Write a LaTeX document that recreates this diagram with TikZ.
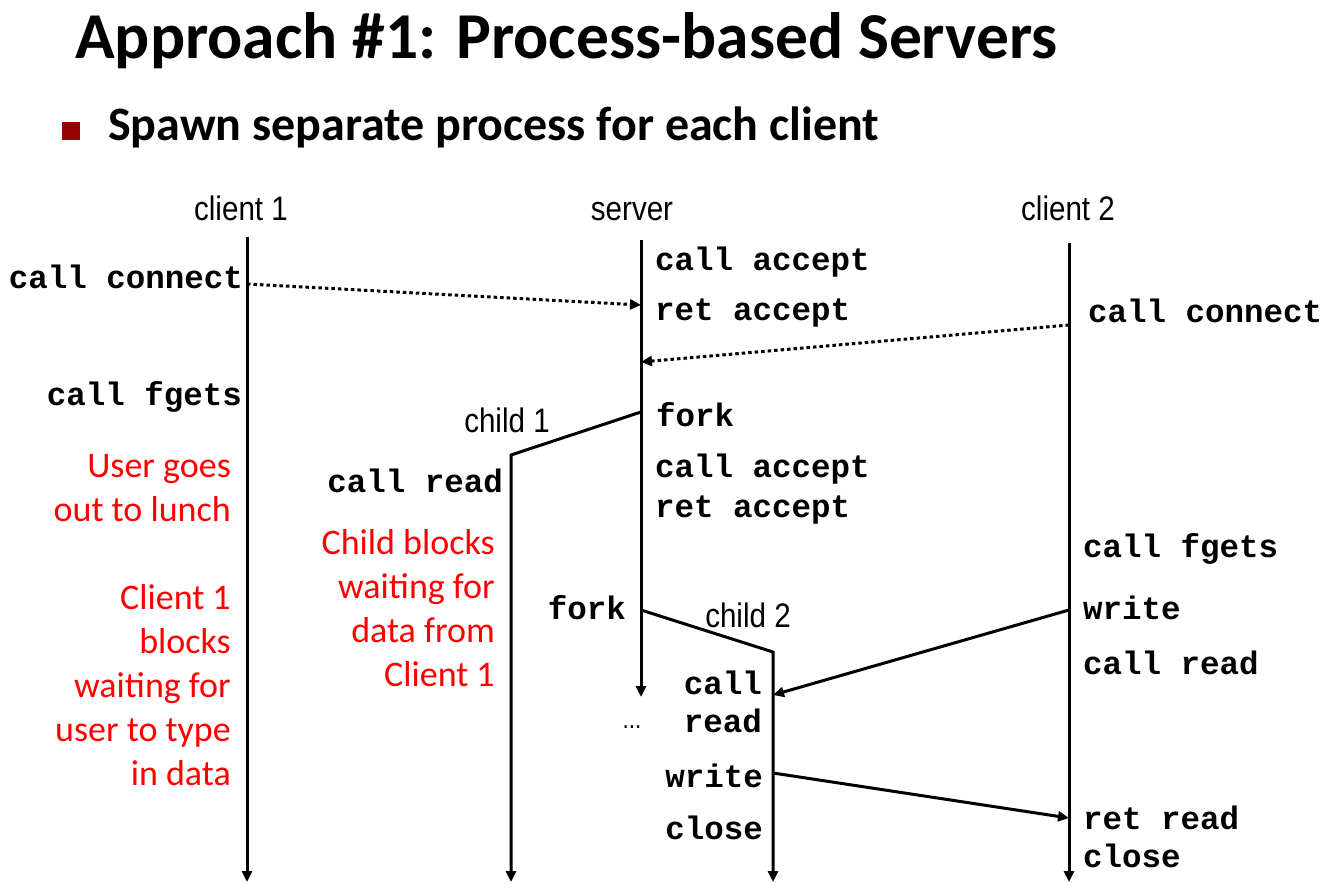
\documentclass[tikz,border=0pt]{standalone}
\usepackage{fontspec}
\setmainfont{Carlito}
\newfontfamily\codefont{Liberation Mono}
\newfontfamily\narrowfont[FakeStretch=0.87]{Liberation Sans}
\usetikzlibrary{arrows.meta,positioning}
\definecolor{bulletred}{HTML}{990000}

\begin{document}
\begin{tikzpicture}[x=1pt,y=-1pt,>={Triangle[length=11pt,width=10pt]},
  code/.style={font=\codefont\bfseries\fontsize{32.5}{38}\selectfont,inner sep=0pt},
  note/.style={font=\fontsize{36}{44}\selectfont,text=red,align=right,inner sep=0pt},
  tag/.style={font=\narrowfont\fontsize{34}{38}\selectfont,inner sep=0pt},
  life/.style={->,line width=3pt},
  msg/.style={->,line width=3pt},
  conn/.style={->,line width=3pt,dash pattern=on 3.5pt off 3pt}]
\useasboundingbox[fill=white] (0,0) rectangle (1322,889);

\node[font=\bfseries\fontsize{65.5}{72}\selectfont,anchor=base west,inner sep=0pt] (title) at (75,58) {Approach \#1: Process-based Servers};
\node[fill=bulletred,minimum size=18pt,inner sep=0pt] (bullet) at (71,131) {};
\node[font=\bfseries\fontsize{48}{54}\selectfont,anchor=base west,inner sep=0pt] (sub) at (108,140) {Spawn separate process for each client};

% time lines
\coordinate (c1top)  at (247,237); \coordinate (c1bot)  at (247,882);
\coordinate (srvtop) at (641,240); \coordinate (srvbot) at (641,697);
\coordinate (c2top)  at (1069,243); \coordinate (c2bot) at (1069,882);
\coordinate (ch1top) at (511,455); \coordinate (ch1bot) at (511,882);
\coordinate (ch2top) at (773,652); \coordinate (ch2bot) at (773,882);
% events
\coordinate (c1conn)  at (247,284);
\coordinate (srvacc)  at (641,305);
\coordinate (c2conn)  at (1069,325);
\coordinate (srvacc2) at (641,362);
\coordinate (fork1)   at (641,412);
\coordinate (fork2)   at (641,610);
\coordinate (c2wr)    at (1069,610);
\coordinate (ch2rd)   at (773,695);
\coordinate (ch2wr)   at (773,773);
\coordinate (c2rd)    at (1069,818);

\node[tag,anchor=base] (c1name)  at (241,220) {client 1};
\node[tag,anchor=base] (srvname) at (632,220) {server};
\node[tag,anchor=base] (c2name)  at (1068,220) {client 2};
\node[tag,anchor=base] (ch1name) at (507,432) {child 1};
\node[tag,anchor=base] (ch2name) at (748,627) {child 2};

\node[code,anchor=base east] (c1call)  at (243,288) {call connect};
\node[code,anchor=base east] (c1fgets) at (242,405) {call fgets};

\node[code,anchor=base west] (sacc)   at (655,270) {call accept};
\node[code,anchor=base west] (sret)   at (655,320) {ret accept};
\node[code,anchor=base west] (sfork)  at (656,426) {fork};
\node[code,anchor=base west] (sacc2)  at (655,477) {call accept};
\node[code,anchor=base west] (sret2)  at (655,517) {ret accept};
\node[code,anchor=base east] (sfork2) at (626,619) {fork};
\node[font=\narrowfont\fontsize{26}{30}\selectfont,anchor=base,inner sep=0pt] (sdots) at (632,728) {...};

\node[code,anchor=base east] (ch1read) at (503,492) {call read};

\node[code,anchor=base east] (ch2call)  at (762,694) {call};
\node[code,anchor=base east] (ch2read)  at (762,732) {read};
\node[code,anchor=base east] (ch2write) at (763,787) {write};
\node[code,anchor=base east] (ch2close) at (763,839) {close};

\node[code,anchor=base west] (c2call)  at (1088,322) {call connect};
\node[code,anchor=base west] (c2fgets) at (1083,557) {call fgets};
\node[code,anchor=base west] (c2write) at (1083,619) {write};
\node[code,anchor=base west] (c2read)  at (1083,674) {call read};
\node[code,anchor=base west] (c2ret)   at (1083,829) {ret read};
\node[code,anchor=base west] (c2close) at (1083,867) {close};

% multi-line notes sit on their last line
\node[note,anchor=base east] (lunch)   at (231,521) {User goes\\out to lunch};
\node[note,anchor=base east] (c1block) at (231,785) {Client 1\\blocks\\waiting for\\user to type\\in data};
\node[note,anchor=base east] (ch1wait) at (495,686) {Child blocks\\waiting for\\data from\\Client 1};

\draw[life] (c1top) -- (c1bot);
\draw[life] (srvtop) -- (srvbot);
\draw[life] (c2top) -- (c2bot);
\draw[life] (fork1) -- (ch1top) -- (ch1bot);
\draw[life] (fork2) -- (ch2top) -- (ch2bot);

\draw[conn] (c1conn) -- (srvacc);
\draw[conn] (c2conn) -- (srvacc2);
\draw[msg] (c2wr) -- (ch2rd);
\draw[msg] (ch2wr) -- (c2rd);
\end{tikzpicture}
\end{document}
